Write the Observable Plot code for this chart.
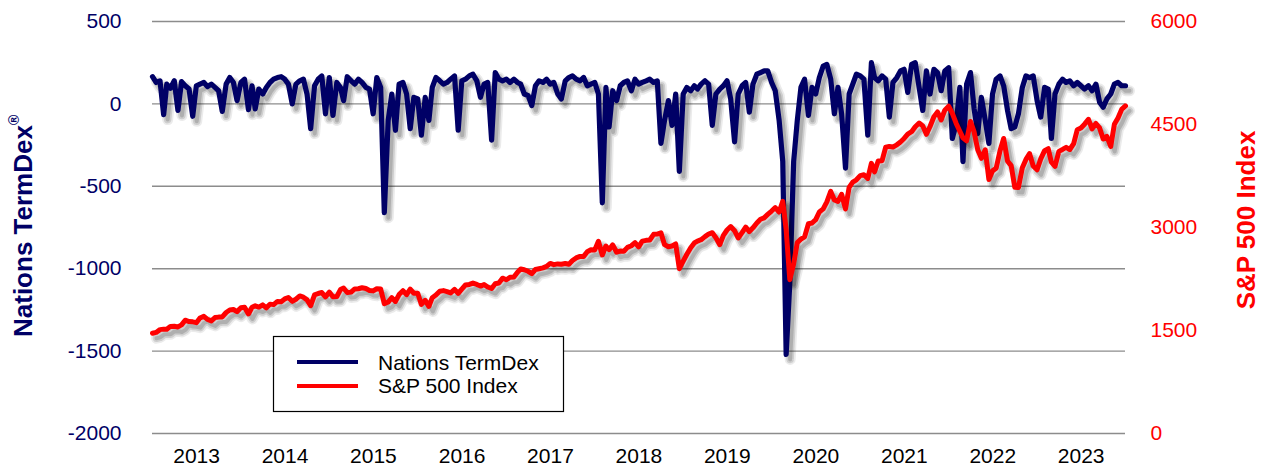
<!DOCTYPE html>
<html><head><meta charset="utf-8">
<script src="https://cdn.jsdelivr.net/npm/d3@7"></script>
<script src="https://cdn.jsdelivr.net/npm/@observablehq/plot@0.6"></script>
<style>
body{margin:0;background:#fff;}
#chart{position:relative;width:1264px;height:465px;}
</style></head><body><div id="chart"></div>
<script>
// Nations TermDex, semimonthly (1st and 16th of each month), Jan 2013 – Jan 2024
const termdex = [
 165,130,140,-65,120,95,140,-40,135,110,90,-75,110,120,130,105,120,100,80,-45,120,160,130,20,
 130,150,-35,110,-30,90,60,100,130,150,160,165,150,120,0,120,140,150,60,-150,110,150,170,-60,
 160,-70,130,100,20,165,140,120,150,130,100,90,-60,160,100,-660,-100,60,-160,120,130,60,-150,40,
 30,-190,40,-100,100,160,140,120,130,150,170,-160,140,150,170,180,140,40,120,130,-220,190,150,140,
 150,130,150,130,120,60,50,-10,110,140,130,150,120,130,60,30,140,160,170,150,140,160,110,120,
 130,60,-600,100,-140,80,20,110,130,140,80,150,120,130,140,150,130,140,-240,-100,20,-130,60,-410,
 60,100,80,110,90,120,140,120,-130,60,90,110,140,30,-230,60,110,130,-50,120,180,190,200,200,
 130,80,-100,-350,-1520,-1090,-350,-100,100,150,-70,100,60,160,230,240,150,-60,100,-60,-390,60,120,180,
 170,150,-190,250,160,140,170,150,-80,130,160,200,210,70,240,250,100,-40,200,60,210,190,80,200,
 220,-210,-120,100,-350,120,190,-30,-180,40,-100,-240,60,150,170,110,-40,-150,-140,-60,100,170,160,170,
 20,-80,100,90,-210,60,120,150,130,140,110,130,110,90,110,80,120,10,-20,30,60,120,130,110,
 110
];
// S&P 500 Index, same dates
const sp500 = [
 1460,1472,1513,1520,1518,1560,1562,1552,1582,1650,1630,1626,1614,1682,1706,1661,1640,1688,1695,1698,1762,1798,1806,1775,
 1831,1838,1741,1838,1859,1841,1873,1830,1884,1877,1924,1920,1960,1981,1925,1955,2003,1985,1946,1862,2018,2039,2053,1990,
 2058,1992,1995,2096,2117,2053,2059,2106,2108,2122,2111,2084,2077,2108,2104,1890,1914,1978,1923,2023,2079,2023,2102,2043,
 2044,1880,1940,1850,1978,2016,2072,2081,2065,2047,2099,2040,2103,2162,2171,2190,2171,2147,2168,2133,2111,2180,2191,2262,
 2239,2275,2279,2349,2395,2385,2362,2328,2388,2400,2412,2433,2477,2459,2470,2465,2476,2464,2519,2557,2579,2579,2647,2675,
 2674,2800,2600,2730,2677,2747,2640,2656,2655,2711,2734,2779,2718,2801,2813,2818,2901,2904,2924,2750,2720,2730,2760,2400,
 2510,2610,2706,2775,2803,2822,2867,2905,2924,2850,2750,2886,2964,3014,2953,2847,2926,3007,2940,2995,3066,3120,3141,3191,
 3240,3289,3226,3380,2970,2240,2470,2780,2830,2864,3055,3066,3115,3226,3271,3372,3526,3401,3380,3483,3270,3585,3662,3695,
 3756,3768,3714,3934,3811,3968,3973,4170,4181,4173,4204,4246,4297,4360,4395,4468,4522,4480,4357,4471,4613,4682,4567,4709,
 4766,4662,4515,4401,4306,4262,4545,4392,4131,4008,4132,3700,3825,3863,4118,4297,3966,3901,3585,3583,3871,3992,4076,3895,
 3840,3999,4119,4147,3951,3891,4109,4137,4167,4136,4221,4425,4450,4505,4576,4437,4515,4450,4288,4327,4180,4502,4594,4719,
 4770
];
const years = [2013,2014,2015,2016,2017,2018,2019,2020,2021,2022,2023];
const leftTicks = [-2000,-1500,-1000,-500,0,500];
const rightTicks = [0,1500,3000,4500,6000];
const seriesNames = ["Nations TermDex","S&P 500 Index"];
const leftTitle = "Nations TermDex";
const rightTitle = "S&P 500 Index";

const NAVY = "#000066", RED = "#ff0000";
const FONT = "'Liberation Sans', Arial, sans-serif";
const dateOf = i => new Date(2013, Math.floor(i/2), i%2 ? 16 : 1);
const toLeft = v => -2000 + v*2500/6000;
const fromLeft = v => (v+2000)*6000/2500;
const data = termdex.map((t,i) => ({date: dateOf(i), termdex: t, sp: toLeft(sp500[i])}));

// soft offset shadow drawn under each series line
const shadow = (y) => [
  Plot.lineY(data, {x:"date", y, stroke:"#000", strokeOpacity:0.08, strokeWidth:11, dx:4, dy:5}),
  Plot.lineY(data, {x:"date", y, stroke:"#000", strokeOpacity:0.12, strokeWidth:7.5, dx:4, dy:5}),
  Plot.lineY(data, {x:"date", y, stroke:"#000", strokeOpacity:0.15, strokeWidth:4, dx:4, dy:5})
];

const plot = Plot.plot({
  width:1264, height:465,
  marginLeft:152, marginRight:139, marginTop:21, marginBottom:32,
  style:{fontFamily:FONT, fontSize:"21px", background:"#fff", overflow:"visible"},
  x:{type:"time", domain:[new Date(2013,0,1), new Date(2024,0,1)]},
  y:{domain:[-2000,500]},
  marks:[
    Plot.gridY(leftTicks, {stroke:"#8c8c8c", strokeOpacity:1, strokeWidth:1.4}),
    Plot.axisY({ticks:leftTicks, anchor:"left", tickSize:0, tickPadding:31, fill:NAVY, label:null, fontSize:21,
                tickFormat:d => String(d)}),
    Plot.axisY({ticks:rightTicks.map(toLeft), anchor:"right", tickSize:0, tickPadding:25, fill:RED, label:null, fontSize:21,
                tickFormat:d => String(Math.round(fromLeft(d)))}),
    Plot.axisX({ticks:years.map(y => new Date(y,6,2)), tickFormat:d => String(d.getFullYear()), tickSize:0, tickPadding:15, fill:"#000", label:null, fontSize:21}),
    ...shadow("termdex"),
    Plot.lineY(data, {x:"date", y:"termdex", stroke:NAVY, strokeWidth:5.2}),
    ...shadow("sp"),
    Plot.lineY(data, {x:"date", y:"sp", stroke:RED, strokeWidth:5})
  ]
});

const svg = d3.select(plot);

// axis titles
const lt = svg.append("text")
  .attr("transform","translate(22.5,337) rotate(-90)")
  .attr("dy","0.36em").attr("text-anchor","start")
  .attr("fill",NAVY).attr("font-weight","bold").attr("font-size",26)
  .attr("font-family",FONT);
lt.append("tspan").text(leftTitle);
lt.append("tspan").attr("font-size",14).attr("dy","-0.9em").text("®");

svg.append("text")
  .attr("transform","translate(1245.5,220) rotate(-90)")
  .attr("dy","0.36em").attr("text-anchor","middle")
  .attr("fill",RED).attr("font-weight","bold").attr("font-size",26)
  .attr("font-family",FONT)
  .text(rightTitle);

// legend
const lg = svg.append("g").attr("font-family",FONT).attr("font-size",21).attr("text-anchor","start");
lg.append("rect").attr("x",273.5).attr("y",336.5).attr("width",290).attr("height",75)
  .attr("fill","#fff").attr("stroke","#000").attr("stroke-width",1.2);
[NAVY, RED].forEach((c,i) => {
  lg.append("line").attr("x1",297).attr("x2",358).attr("y1",362+24*i).attr("y2",362+24*i)
    .attr("stroke",c).attr("stroke-width",4);
  lg.append("text").attr("x",378).attr("y",370+23*i).attr("text-anchor","start").attr("fill","#000").text(seriesNames[i]);
});

document.getElementById("chart").appendChild(plot);
</script></body></html>
